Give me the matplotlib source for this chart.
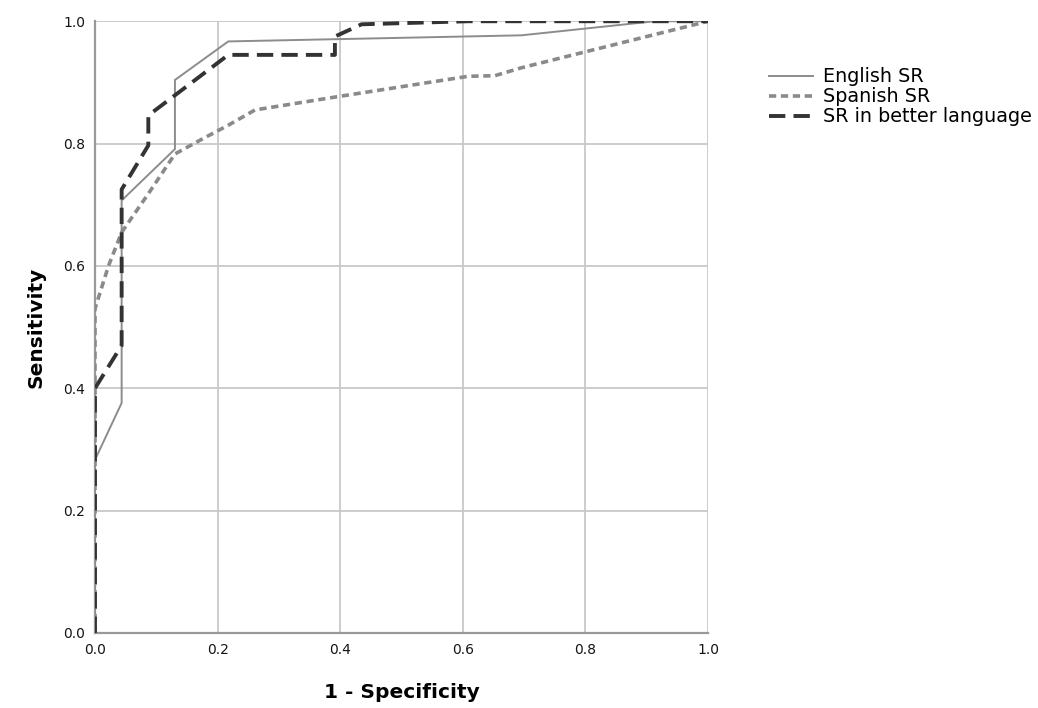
import matplotlib
matplotlib.use("Agg")
import matplotlib.pyplot as plt

# ROC points (x = 1 - specificity, y = sensitivity)
english_x = [0.0, 0.0, 0.0435, 0.0435, 0.1304, 0.1304, 0.2174, 0.6957, 0.913, 1.0]
english_y = [0.0, 0.283, 0.376, 0.707, 0.791, 0.904, 0.967, 0.977, 1.0, 1.0]

spanish_x = [0.0, 0.0, 0.022, 0.0435, 0.087, 0.1304, 0.174, 0.2174, 0.261, 0.3913,
             0.6087, 0.6522, 0.6957, 1.0]
spanish_y = [0.0, 0.53, 0.60, 0.655, 0.718, 0.783, 0.807, 0.83, 0.855, 0.876,
             0.910, 0.911, 0.924, 1.0]

better_x = [0.0, 0.0, 0.0435, 0.0435, 0.087, 0.087, 0.2174, 0.3913, 0.3913, 0.4348,
            0.6087, 1.0]
better_y = [0.0, 0.40, 0.47, 0.725, 0.797, 0.846, 0.945, 0.945, 0.975, 0.995,
            1.0, 1.0]

ticks = [0.0, 0.2, 0.4, 0.6, 0.8, 1.0]
tick_labels = ["0.0", "0.2", "0.4", "0.6", "0.8", "1.0"]

plt.rcParams['font.family'] = ['DejaVu Sans']

fig = plt.figure(figsize=(10.38, 7.08), dpi=100)
ax = fig.add_axes([0.0915, 0.106, 0.5907, 0.864])

ax.plot(english_x, english_y, color="#8c8c8c", linewidth=1.4, label="English SR",
        solid_joinstyle="miter", zorder=3)
ax.plot(spanish_x, spanish_y, color="#8a8a8a", linewidth=2.6, linestyle=(0, (2.0, 1.3)),
        label="Spanish SR", zorder=3)
ax.plot(better_x, better_y, color="#333333", linewidth=2.8, linestyle=(0, (4.2, 2.1)),
        label="SR in better language", zorder=4)

ax.set_xlim(0, 1)
ax.set_ylim(0, 1)
ax.set_xticks(ticks)
ax.set_xticklabels(tick_labels)
ax.set_yticks(ticks)
ax.set_yticklabels(tick_labels)
ax.grid(True, color="#c8c8c8", linewidth=1.3)
ax.set_axisbelow(True)
ax.tick_params(length=0, labelsize=10, colors="#151515", pad=7)

for side in ("top", "right"):
    ax.spines[side].set_visible(False)
for side in ("left", "bottom"):
    ax.spines[side].set_color("#999999")
    ax.spines[side].set_linewidth(1.6)

ax.set_xlabel("1 - Specificity", fontsize=14.5, fontweight="bold", labelpad=19)
ax.set_ylabel("Sensitivity", fontsize=14.5, fontweight="bold", labelpad=13)

ax.legend(loc="upper left", bbox_to_anchor=(1.087, 0.937), frameon=False,
          fontsize=13.8, handlelength=2.3, handletextpad=0.5, labelspacing=0.05,
          borderaxespad=0)

fig.savefig("out.png", dpi=100)
